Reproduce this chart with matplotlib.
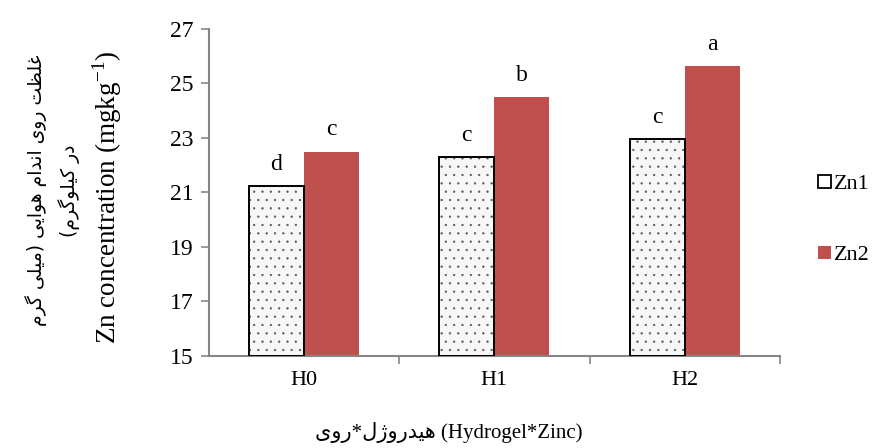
import matplotlib
matplotlib.use("Agg")
import matplotlib.pyplot as plt
from matplotlib.patches import Patch
import numpy as np

# data
groups = ["H0", "H1", "H2"]
zn1 = [21.25, 22.3, 22.95]
zn2 = [22.5, 24.5, 25.65]
zn1_letters = ["d", "c", "c"]
zn2_letters = ["c", "b", "a"]
y_ticks = [15, 17, 19, 21, 23, 25, 27]

RED = "#C0504D"
SPINE = "#868686"

# minimal Persian shaping: (isolated, final, initial, medial)
FORMS = {
    "ا": ("\uFE8D", "\uFE8E", None, None),
    "د": ("\uFEA9", "\uFEAA", None, None),
    "ر": ("\uFEAD", "\uFEAE", None, None),
    "ز": ("\uFEAF", "\uFEB0", None, None),
    "ژ": ("\uFB8A", "\uFB8B", None, None),
    "و": ("\uFEED", "\uFEEE", None, None),
    "ت": ("\uFE95", "\uFE96", "\uFE97", "\uFE98"),
    "ظ": ("\uFEC5", "\uFEC6", "\uFEC7", "\uFEC8"),
    "غ": ("\uFECD", "\uFECE", "\uFECF", "\uFED0"),
    "ل": ("\uFEDD", "\uFEDE", "\uFEDF", "\uFEE0"),
    "م": ("\uFEE1", "\uFEE2", "\uFEE3", "\uFEE4"),
    "ن": ("\uFEE5", "\uFEE6", "\uFEE7", "\uFEE8"),
    "ه": ("\uFEE9", "\uFEEA", "\uFEEB", "\uFEEC"),
    "ی": ("\uFBFC", "\uFBFD", "\uFBFE", "\uFBFF"),
    "ک": ("\uFB8E", "\uFB8F", "\uFB90", "\uFB91"),
    "گ": ("\uFB92", "\uFB93", "\uFB94", "\uFB95"),
}


def shape_fa(text):
    out = []
    for i, ch in enumerate(text):
        if ch not in FORMS:
            out.append(ch)
            continue
        iso, fin, ini, med = FORMS[ch]
        prev = text[i - 1] if i > 0 else ""
        nxt = text[i + 1] if i < len(text) - 1 else ""
        join_prev = prev in FORMS and FORMS[prev][2] is not None
        join_next = ini is not None and nxt in FORMS
        if join_prev and join_next:
            out.append(med)
        elif join_prev:
            out.append(fin)
        elif join_next:
            out.append(ini)
        else:
            out.append(iso)
    vis = "".join(out)[::-1]
    return vis.translate(str.maketrans("()", ")("))


plt.rcParams.update({
    "font.family": ["Liberation Serif", "DejaVu Sans"],
    "mathtext.fontset": "custom",
    "mathtext.rm": "Liberation Serif",
    "hatch.linewidth": 0.4,
})

fig = plt.figure(figsize=(8.78, 4.48), dpi=100)
ax = fig.add_axes([0.2375, 0.2054, 0.651, 0.730])

x = np.arange(len(groups))
w = 0.289
h1 = np.array(zn1) - 15
# dotted fill (grey dots), then a black outline on top
ax.bar(x - w / 2, h1, w, bottom=15, facecolor="#f7f7f7",
       edgecolor="#555555", hatch="..", linewidth=0, zorder=2)
ax.bar(x - w / 2, h1, w, bottom=15, fill=False,
       edgecolor="black", linewidth=1.4, zorder=3)
ax.bar(x + w / 2, np.array(zn2) - 15, w, bottom=15, color=RED, zorder=2)

for xi, v, lab in zip(x - w / 2, zn1, zn1_letters):
    ax.annotate(lab, (xi, v), xytext=(0, 8), textcoords="offset points",
                ha="center", va="bottom", fontsize=17)
for xi, v, lab in zip(x + w / 2, zn2, zn2_letters):
    ax.annotate(lab, (xi, v), xytext=(0, 8), textcoords="offset points",
                ha="center", va="bottom", fontsize=17)

ax.set_xlim(-0.5, 2.5)
ax.set_ylim(15, 27)
ax.set_yticks(y_ticks)
ax.set_xticks(x)
ax.set_xticklabels(groups)
ax.set_xticks([0.5, 1.5, 2.5], minor=True)
ax.tick_params(axis="x", which="major", length=0, pad=11, labelsize=16)
ax.tick_params(axis="x", which="minor", length=6, width=1.2, color=SPINE)
ax.tick_params(axis="y", length=6, width=1.2, color=SPINE, labelsize=17, pad=5)

for s in ["top", "right"]:
    ax.spines[s].set_visible(False)
for s in ["left", "bottom"]:
    ax.spines[s].set_color(SPINE)
    ax.spines[s].set_linewidth(1.5)

# axis titles
fig.text(0.041, 0.575, shape_fa("غلظت روی اندام هوایی (میلی گرم"), rotation=90,
         ha="center", va="center", fontsize=13.5, family="DejaVu Sans")
fig.text(0.079, 0.575, shape_fa("در کیلوگرم)"), rotation=90,
         ha="center", va="center", fontsize=13.5, family="DejaVu Sans")
fig.text(0.122, 0.56, r"Zn concentration (mgkg$^{-1}$)", rotation=90,
         ha="center", va="center", fontsize=19.5)
fig.text(0.511, 0.035, shape_fa("هیدروژل*روی") + " (Hydrogel*Zinc)",
         ha="center", va="center", fontsize=15)

handles = [Patch(facecolor="white", edgecolor="black", linewidth=1.3),
           Patch(facecolor=RED)]
fig.legend(handles, ["Zn1", "Zn2"], loc="center left",
           bbox_to_anchor=(0.922, 0.509), frameon=False, fontsize=16,
           handlelength=0.55, handleheight=0.55, handletextpad=0.15,
           labelspacing=2.3, borderaxespad=0)

fig.savefig("out.png", dpi=100)
